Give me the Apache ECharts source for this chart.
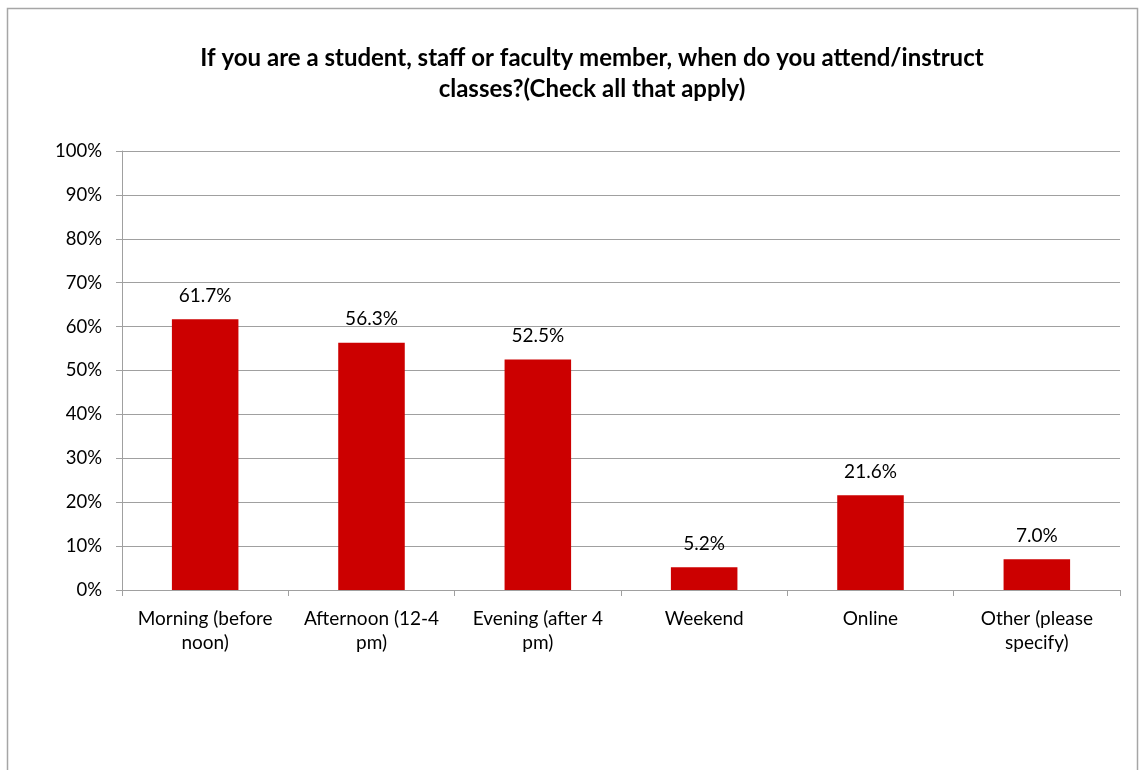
<!DOCTYPE html>
<html>
<head>
<meta charset="utf-8">
<script src="https://cdn.jsdelivr.net/npm/echarts@6/dist/echarts.min.js"></script>
<style>
  html, body { margin: 0; padding: 0; background: #fff; }
  #chart { width: 1147px; height: 770px; }
</style>
</head>
<body>
<div id="chart"></div>
<script>
// Survey: class attendance times (check all that apply)
const titleText = 'If you are a student, staff or faculty member, when do you attend/instruct\nclasses?(Check all that apply)';
const categories = [
  'Morning (before\nnoon)',
  'Afternoon (12-4\npm)',
  'Evening (after 4\npm)',
  'Weekend',
  'Online',
  'Other (please\nspecify)'
];
const percentValues = [61.7, 56.3, 52.5, 5.2, 21.6, 7.0];

const FONT = 'Lato, "Open Sans", sans-serif';
const chart = echarts.init(document.getElementById('chart'));

chart.setOption({
  backgroundColor: '#ffffff',
  animation: false,
  graphic: [
    {
      type: 'rect',
      shape: { x: 7.5, y: 8.5, width: 1130, height: 800 },
      style: { fill: 'none', stroke: '#a6a6a6', lineWidth: 1.5 },
      silent: true
    },
    {
      type: 'text',
      x: 592,
      y: 43,
      silent: true,
      style: {
        text: titleText,
        textAlign: 'center',
        textVerticalAlign: 'top',
        fontFamily: FONT,
        fontWeight: 'bold',
        fontSize: 24,
        lineHeight: 31,
        fill: '#000'
      }
    }
  ],
  grid: { left: 122, right: 27, top: 151, bottom: 180, containLabel: false },
  xAxis: {
    type: 'category',
    data: categories,
    axisLine: { lineStyle: { color: '#a0a0a0', width: 1 } },
    axisTick: { show: true, length: 6, alignWithLabel: false, lineStyle: { color: '#a0a0a0' } },
    axisLabel: {
      fontFamily: FONT,
      fontSize: 19,
      color: '#000',
      lineHeight: 24,
      margin: 17,
      interval: 0
    }
  },
  yAxis: {
    type: 'value',
    min: 0,
    max: 100,
    interval: 10,
    axisLine: { show: true, lineStyle: { color: '#a0a0a0' } },
    axisTick: { show: true, length: 6, lineStyle: { color: '#a0a0a0' } },
    splitLine: { lineStyle: { color: '#a0a0a0', width: 1 } },
    axisLabel: {
      fontFamily: FONT,
      fontSize: 18.5,
      color: '#000',
      margin: 20,
      formatter: v => v + '%'
    }
  },
  series: [{
    type: 'bar',
    data: percentValues,
    barWidth: '40%',
    itemStyle: { color: '#cc0000' },
    label: {
      show: true,
      position: 'top',
      distance: 14,
      fontFamily: FONT,
      fontSize: 19,
      color: '#000',
      formatter: p => p.value.toFixed(1) + '%'
    }
  }]
});
</script>
</body>
</html>
